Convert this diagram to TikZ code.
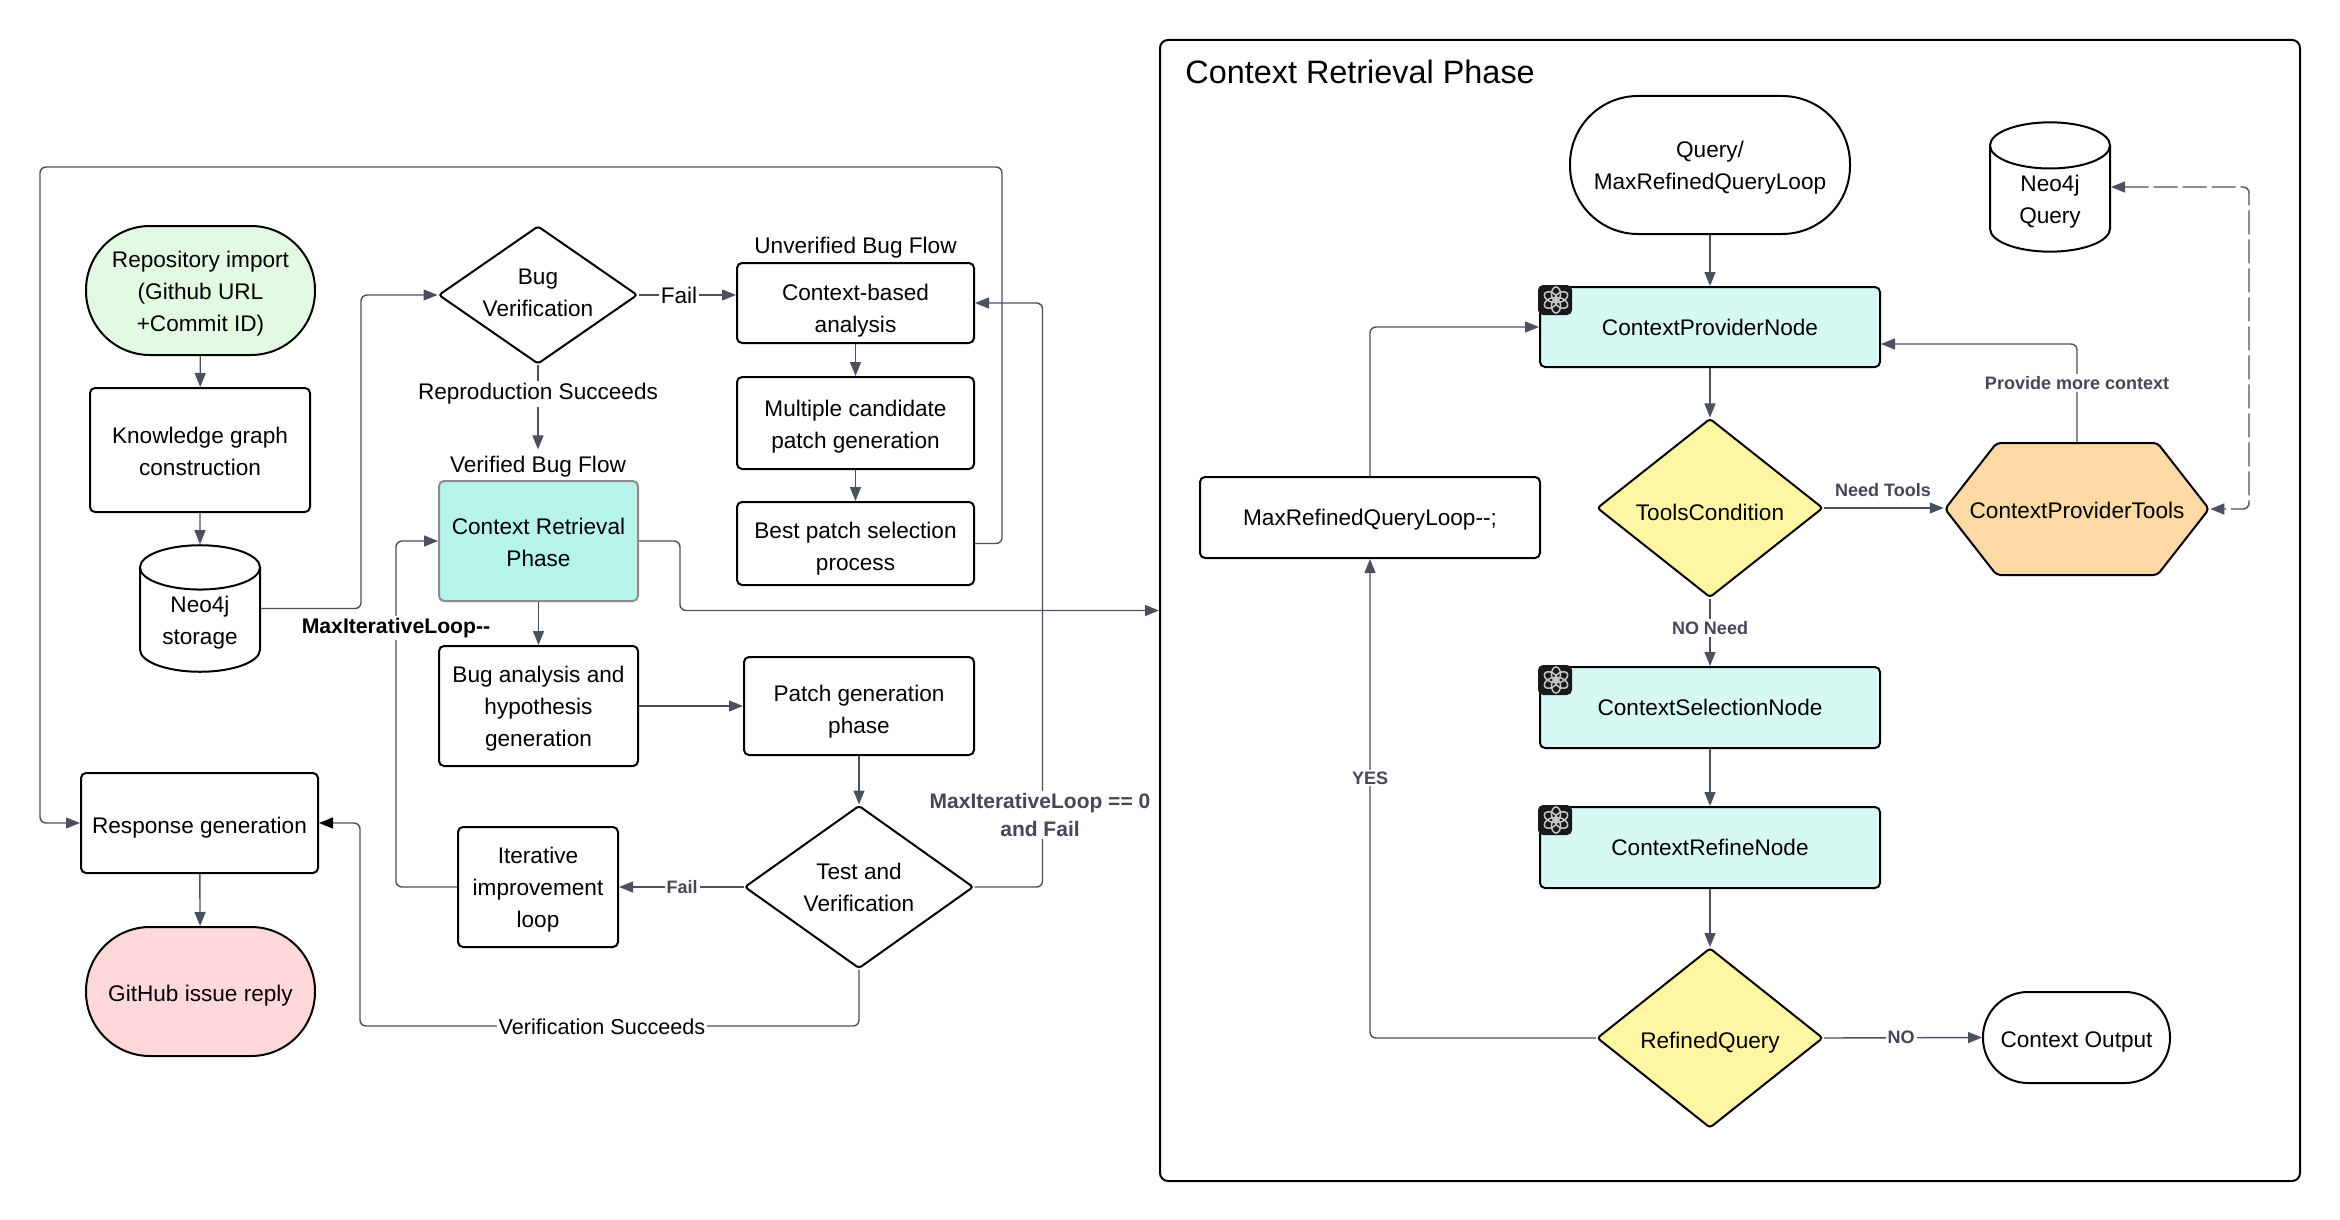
\documentclass[tikz,border=0pt]{standalone}
\usepackage{fontspec}
\setmainfont{Liberation Sans}
\usepackage{tikz}
\usetikzlibrary{arrows.meta, shapes.geometric, shapes.symbols}
\definecolor{flowline}{HTML}{4A505E}
\definecolor{startgreen}{HTML}{E3FAE2}
\definecolor{endred}{HTML}{FFD8DA}
\definecolor{phaseteal}{HTML}{B6F4EB}
\definecolor{nodeteal}{HTML}{D6F9F3}
\definecolor{condyellow}{HTML}{FFF6A4}
\definecolor{toolorange}{HTML}{FDD9A3}
\newcommand{\flowfont}{\fontsize{11.3}{16}\selectfont}
\newcommand{\edgefont}{\fontsize{9}{12}\selectfont\bfseries\color{flowline!90!black}}
\newcommand{\lift}[1]{\rule{0pt}{\dimexpr 8.2pt+#1pt+#1pt\relax}}
\tikzset{
  wh/.style 2 args={minimum width=#1*0.5pt, minimum height=#2*0.5pt},
  boxnode/.style={draw=black, line width=1pt, rounded corners=2.5pt, align=center, font=\flowfont, inner sep=1pt},
  roundnode/.style={boxnode, rounded corners=#1},
  dianode/.style={boxnode, diamond, inner sep=0pt, rounded corners=1.5pt},
  dbnode/.style={boxnode, cylinder, shape border rotate=90, aspect=0.75, rounded corners=0pt, inner sep=0pt, anchor=shape center},
  edgelabel/.style={font=\flowfont, fill=white, inner sep=1pt, align=center},
  boldlabel/.style={font=\edgefont, fill=white, inner sep=1pt, align=center},
  arrowline/.style={draw=flowline, line width=0.7pt, ->, rounded corners=3pt},
  gptlogo/.pic={
    \fill[black!90, rounded corners=2.5pt] (-1,-1) rectangle (33,29);
    \foreach \ang in {0,60,...,300}
      \draw[black!22, line width=0.75pt, rotate around={\ang:(17,14)}] (17,8) ellipse (4.5 and 7);
  }
}
\begin{document}
\begin{tikzpicture}[>={Triangle[length=7pt, width=5.5pt]}, x=0.5pt, y=-0.5pt]
  \useasboundingbox (0,0) rectangle (2340,1220);
  % Left flow
  \node[roundnode=32pt, fill=startgreen, wh={229}{129}] (repo) at (200.5,290.5) {\lift{1.5}Repository import\\(Github URL\\+Commit ID)};
  \node[boxnode, wh={220}{124}] (know) at (200,450) {\lift{0.8}Knowledge graph\\construction};
  \node[dbnode, wh={120}{103}] (neo) at (200,608.5) {\lift{1.5}Neo4j\\\makebox[0pt]{storage}};
  \node[dianode, aspect=1.44, wh={199}{138}] (bugv) at (538,295) {Bug\\Verification\rule[-2pt]{0pt}{0pt}};
  \node[boxnode, wh={237}{80}] (ctxb) at (855.5,303) {\lift{4}Context-based\\analysis};
  \node[boxnode, wh={237}{92}] (multi) at (855.5,423) {\lift{1.9}Multiple candidate\\patch generation};
  \node[boxnode, wh={237}{83}] (best) at (855.5,543.5) {\lift{2.6}Best patch selection\\process};
  \node[boxnode, draw=black!45, fill=phaseteal, wh={199}{120}] (crp) at (538.5,541) {\lift{0.8}Context Retrieval\\Phase};
  \node[boxnode, wh={199}{120}] (bugan) at (538.5,706) {\lift{1.5}Bug analysis and\\hypothesis\\generation};
  \node[boxnode, wh={230}{98}] (patch) at (859,706) {\lift{2.6}Patch generation\\phase};
  \node[dianode, aspect=1.4, wh={229}{163}] (testv) at (859,887) {Test and\\Verification};
  \node[boxnode, wh={160}{120}] (iter) at (538,887) {\lift{1.5}Iterative\\improvement\\loop};
  \node[boxnode, wh={237}{100}] (resp) at (199.5,823) {\lift{2.2}Response generation};
  \node[roundnode=32pt, fill=endred, wh={229}{129}] (github) at (200.5,991.5) {\lift{2.2}GitHub issue reply};
  % Flow titles
  \node[font=\flowfont] (unverified) at (855.5,248) {Unverified Bug Flow};
  \node[font=\flowfont] (verified) at (538,467) {Verified Bug Flow};
  % Right panel
  \node[boxnode, rounded corners=4pt, wh={1140}{1141}] (panel) at (1730,610.5) {};
  \node[font=\fontsize{16.2}{19}\selectfont, anchor=west, inner sep=0pt] (paneltitle) at (1185,72) {Context Retrieval Phase};
  \node[roundnode=34pt, wh={280}{138}] (query) at (1710,165) {\lift{1.5}Query/\\MaxRefinedQueryLoop};
  \node[dbnode, wh={120}{97}] (neoq) at (2050,187) {\lift{1.5}Neo4j\\Query};
  \node[boxnode, fill=nodeteal, wh={340}{80}] (ctxprov) at (1710,327) {ContextProviderNode};
  \node[dianode, fill=condyellow, aspect=1.26, wh={226}{179}] (toolsc) at (1710,508) {\lift{2.2}ToolsCondition};
  \node[boxnode, signal, signal to=west and east, signal pointer angle=104, fill=toolorange, rounded corners=2pt, inner sep=0pt, wh={264}{132}] (hex) at (2077,509) {\lift{0.8}\makebox[0pt]{ContextProviderTools}};
  \node[boxnode, wh={340}{81}] (maxref) at (1370,517.5) {\lift{1.1}MaxRefinedQueryLoop-{}-;};
  \node[boxnode, fill=nodeteal, wh={340}{81}] (ctxsel) at (1710,707.5) {ContextSelectionNode};
  \node[boxnode, fill=nodeteal, wh={340}{81}] (ctxref) at (1710,847.5) {ContextRefineNode};
  \node[dianode, fill=condyellow, aspect=1.25, wh={226}{180}] (refq) at (1710,1038) {\lift{2.2}RefinedQuery};
  \node[roundnode=22.5pt, wh={187}{91}] (ctxout) at (2076.5,1037.5) {\lift{1.9}Context Output};
  % OpenAI badges
  \pic at (ctxprov.north west) {gptlogo};
  \pic at (ctxsel.north west) {gptlogo};
  \pic at (ctxref.north west) {gptlogo};
  % Corners of the long return lines
  \coordinate (looptop) at (1002,167);
  \coordinate (loopleft) at (40,167);
  \coordinate (verifback) at (360,1026);
  % Left connectors
  \draw[arrowline] (repo) -- (know);
  \draw[arrowline] (know) -- (neo.north);
  \draw[arrowline] (neo.east |- neo.shape center) -- ++(100,0) |- (bugv.west);
  \draw[arrowline] (bugv.east) -- (bugv.east -| ctxb.west);
  \draw[arrowline] (bugv) -- (verified);
  \draw[arrowline] (ctxb) -- (multi);
  \draw[arrowline] (multi) -- (best);
  \draw[arrowline] (best.east) -| (looptop) -- (loopleft) |- (resp.west);
  \draw[arrowline] (crp.east) -- ++(41,0) |- (panel.west);
  \draw[arrowline] (crp) -- (bugan);
  \draw[arrowline] (bugan.east) -- (bugan.east -| patch.west);
  \draw[arrowline] (patch) -- (testv);
  \draw[arrowline] (testv.west) -- (iter.east);
  \draw[arrowline] (iter.west) -- ++(-61,0) |- (crp.west);
  \draw[arrowline] (testv.east) -- ++(68,0) |- (ctxb.east);
  \draw[arrowline, -{Triangle[length=7pt, width=5.5pt, black]}] (testv.south) |- (verifback) |- (resp.east);
  \draw[arrowline] (resp) -- (github);
  % Right connectors
  \draw[arrowline] (query) -- (ctxprov);
  \draw[arrowline] (ctxprov) -- (toolsc);
  \draw[arrowline] (toolsc.east) -- (toolsc.east -| hex.west);
  \draw[arrowline] (hex.north) |- ([yshift=-8.5pt]ctxprov.east);
  \draw[arrowline, <->, dash pattern=on 12pt off 2.5pt] (neoq.east |- neoq.shape center) -- ++(138,0) |- (hex.east);
  \draw[arrowline] (toolsc) -- (ctxsel);
  \draw[arrowline] (ctxsel) -- (ctxref);
  \draw[arrowline] (ctxref) -- (refq);
  \draw[arrowline] (refq.east) -- (ctxout.west);
  \draw[arrowline] (refq.west) -| (maxref.south);
  \draw[arrowline] (maxref.north) |- (ctxprov.west);
  % Connector labels
  \node[edgelabel] (failbug) at (679,295) {Fail};
  \node[edgelabel] (reprook) at (538,394) {Reproduction Succeeds};
  \node[boldlabel, font=\fontsize{10.6}{13}\selectfont\bfseries] (maxiter) at (396,628) {MaxIterativeLoop-{}-};
  \node[boldlabel, font=\fontsize{10.5}{14.3}\selectfont\bfseries\color{flowline!90!black}] (maxzero) at (1040,815) {MaxIterativeLoop == 0\\and Fail};
  \node[boldlabel] (failtest) at (682,887) {Fail};
  \node[edgelabel, font=\fontsize{10.8}{13}\selectfont] (verifok) at (602,1027) {Verification Succeeds};
  \node[boldlabel] (needtools) at (1883,490) {Need Tools};
  \node[boldlabel] (provide) at (2077,383) {Provide more context};
  \node[boldlabel] (noneed) at (1710,628) {NO Need};
  \node[boldlabel] (yes) at (1370,778) {YES};
  \node[boldlabel] (nolabel) at (1901,1037) {NO};
\end{tikzpicture}
\end{document}
